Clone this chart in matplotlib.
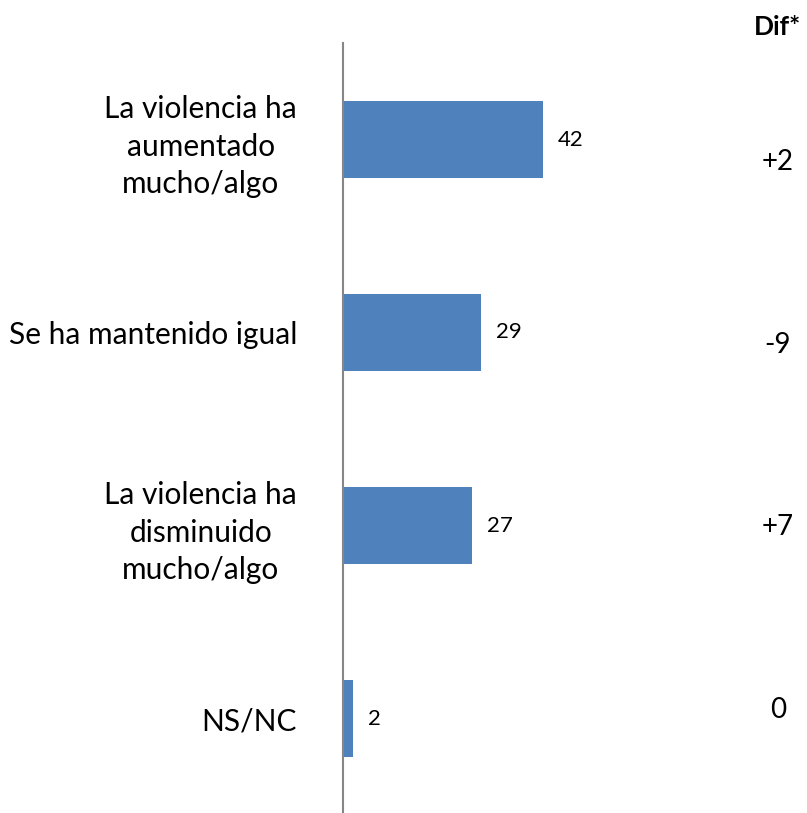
import matplotlib
matplotlib.use("Agg")
import matplotlib.pyplot as plt

categories = ["La violencia ha\naumentado\nmucho/algo", "Se ha mantenido igual",
              "La violencia ha\ndisminuido\nmucho/algo", "NS/NC"]
values = [42, 29, 27, 2]
dif_labels = ["+2", "-9", "+7", "0"]

plt.rcParams['font.family'] = ['Lato', 'DejaVu Sans']

W, H = 807, 813
fig = plt.figure(figsize=(W/100, H/100), dpi=100)
ax_left, ax_right = 343, 743
ax_top, ax_bot = 43, 815
ax = fig.add_axes([ax_left/W, 1 - ax_bot/H, (ax_right-ax_left)/W, (ax_bot-ax_top)/H])
px_per_unit = 200/42
ax.set_xlim(0, (ax_right-ax_left)/px_per_unit)
ax.set_ylim(len(categories)-0.5, -0.5)

ypos = list(range(len(categories)))
ax.barh(ypos, values, height=0.4, color='#4F81BD')
for y, v in zip(ypos, values):
    ax.text(v + 15/px_per_unit, y, str(v), va='center', ha='left', fontsize=16, color='black')

for s in ['top', 'right', 'bottom']:
    ax.spines[s].set_visible(False)
ax.spines['left'].set_color('#868686')
ax.spines['left'].set_linewidth(1.5)
ax.set_xticks([])
ax.set_yticks(ypos)
ax.set_yticklabels(categories, fontsize=21.5, multialignment='center', linespacing=1.4)
ax.tick_params(axis='y', length=0, pad=33)

# Dif column
dif_y = [162, 345, 527, 710]
for t, yy in zip(dif_labels, dif_y):
    fig.text(778/W, 1 - yy/H, t, ha='center', va='center', fontsize=20)
fig.text(801/W, 1 - 27/H, "Dif*", ha='right', va='center', fontsize=19, fontweight='bold')

fig.savefig("out.png", dpi=100)
